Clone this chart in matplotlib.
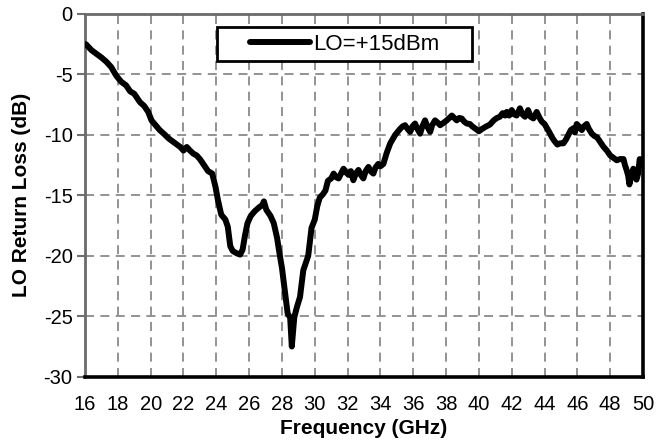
import matplotlib
import matplotlib.pyplot as plt
from matplotlib.lines import Line2D
from matplotlib.legend_handler import HandlerLine2D

matplotlib.use('Agg')

# LO return loss
freq_ghz = [16.05, 16.4, 16.7, 17.0, 17.3, 17.6, 17.9, 18.2, 18.5, 18.75,
            19.0, 19.35, 19.6, 19.85, 20.05, 20.3, 20.55, 20.8, 21.1, 21.4,
            21.8, 22.0, 22.2, 22.4, 22.6, 22.8, 23.0, 23.3, 23.5, 23.75,
            23.95, 24.1, 24.3, 24.55, 24.7, 24.85, 25.0, 25.25, 25.45, 25.6,
            25.75, 25.9, 26.1, 26.35, 26.6, 26.8, 26.9, 27.05, 27.3, 27.5,
            27.7, 27.85, 28.0, 28.2, 28.35, 28.5, 28.6, 28.75, 28.9, 29.1,
            29.3, 29.45, 29.6, 29.8, 30.0, 30.15, 30.3, 30.5, 30.65, 30.8,
            31.0, 31.15, 31.3, 31.45, 31.6, 31.75, 31.9, 32.05, 32.2, 32.35,
            32.5, 32.66, 32.8, 32.96, 33.1, 33.27, 33.4, 33.57, 33.7, 33.87,
            34.0, 34.18, 34.38, 34.6, 34.9, 35.2, 35.35, 35.5, 35.65, 35.81,
            35.95, 36.11, 36.25, 36.42, 36.55, 36.72, 36.85, 37.03, 37.15, 37.33,
            37.5, 37.64, 37.85, 38.04, 38.2, 38.35, 38.5, 38.65, 38.8, 38.96,
            39.1, 39.26, 39.45, 39.6, 39.8, 40.0, 40.2, 40.45, 40.67, 40.9,
            41.1, 41.28, 41.45, 41.6, 41.7, 41.85, 42.0, 42.15, 42.3, 42.5,
            42.65, 42.81, 43.0, 43.15, 43.32, 43.52, 43.7, 43.83, 44.0, 44.13,
            44.3, 44.45, 44.6, 44.78, 44.95, 45.15, 45.3, 45.45, 45.6, 45.76,
            45.85, 45.96, 46.1, 46.27, 46.4, 46.57, 46.7, 46.88, 47.05, 47.2,
            47.4, 47.6, 47.8, 48.0, 48.2, 48.4, 48.6, 48.81, 48.9, 49.0,
            49.1, 49.17, 49.3, 49.41, 49.5, 49.6, 49.7, 49.8, 49.9, 50.0]
return_loss_db = [-2.5, -3.0, -3.3, -3.6, -3.95, -4.4, -5.1, -5.6, -5.9, -6.4,
                  -6.6, -7.3, -7.6, -8.1, -8.8, -9.2, -9.6, -9.9, -10.3, -10.6,
                  -11.0, -11.3, -11.0, -11.3, -11.55, -11.7, -12.0, -12.6, -13.0, -13.2,
                  -14.3, -15.4, -16.6, -17.0, -17.6, -19.2, -19.6, -19.8, -19.9, -19.5,
                  -18.3, -17.3, -16.7, -16.3, -16.0, -15.8, -15.5, -16.2, -16.7, -17.3,
                  -18.5, -19.8, -21.0, -23.2, -24.8, -25.1, -27.5, -25.1, -24.3, -23.4,
                  -21.2, -20.6, -20.0, -17.7, -17.0, -15.9, -15.2, -14.9, -14.6, -13.8,
                  -13.6, -13.2, -13.5, -13.6, -13.2, -12.8, -13.1, -13.3, -13.0, -13.75,
                  -13.2, -12.9, -13.3, -13.6, -13.0, -12.65, -13.0, -13.2, -12.7, -12.4,
                  -12.6, -12.4, -11.5, -10.7, -10.0, -9.5, -9.3, -9.2, -9.5, -9.75,
                  -9.3, -9.06, -9.5, -9.9, -9.3, -8.8, -9.3, -9.75, -9.2, -8.8,
                  -9.0, -9.2, -9.0, -8.8, -8.6, -8.4, -8.6, -8.8, -8.6, -8.65,
                  -8.9, -9.06, -9.1, -9.3, -9.5, -9.7, -9.5, -9.3, -9.15, -8.8,
                  -8.6, -8.5, -8.2, -8.4, -8.1, -8.4, -7.95, -8.3, -8.4, -7.8,
                  -8.3, -8.5, -7.95, -8.5, -8.64, -8.1, -8.6, -8.9, -9.1, -9.4,
                  -9.8, -10.2, -10.5, -10.8, -10.7, -10.7, -10.4, -10.0, -9.6, -9.45,
                  -9.8, -9.1, -9.3, -9.6, -9.3, -9.1, -9.5, -9.9, -10.1, -10.2,
                  -10.6, -11.0, -11.3, -11.7, -11.9, -12.1, -12.0, -12.0, -12.5, -12.9,
                  -13.4, -14.1, -13.3, -12.8, -13.3, -13.7, -13.2, -12.0, -12.5, -12.0]

x_ticks = list(range(16, 51, 2))
y_ticks = list(range(-30, 1, 5))
series_label = 'LO=+15dBm'

plt.rcParams['font.family'] = ['Liberation Sans', 'DejaVu Sans']
plt.rcParams['axes.unicode_minus'] = False

fig = plt.figure(figsize=(6.56, 4.42), dpi=100)
ax = fig.add_axes([0.1296, 0.1477, 0.8506, 0.8207])

ax.plot(freq_ghz, return_loss_db, color='black', linewidth=4.3,
        solid_joinstyle='round', solid_capstyle='round', label=series_label, zorder=3)

ax.set_xlim(16, 50)
ax.set_ylim(-30, 0)
ax.set_xticks(x_ticks)
ax.set_yticks(y_ticks)
ax.tick_params(axis='x', length=0, pad=13, labelsize=14.5)
ax.tick_params(axis='y', length=6, width=1.5, color='#707070', pad=3, labelsize=14.5)

ax.grid(True, color='#8a8a8a', linestyle=(0, (5, 3.5)), linewidth=1.3)
ax.set_axisbelow(True)

# shadowed frame: grey left/top, black right/bottom
for side in ['left', 'top']:
    ax.spines[side].set_color('#6a6a6a')
    ax.spines[side].set_linewidth(2)
for side in ['right', 'bottom']:
    ax.spines[side].set_color('black')
    ax.spines[side].set_linewidth(2.6)

ax.set_xlabel('Frequency (GHz)', fontsize=15, fontweight='bold', labelpad=4)
ax.set_ylabel('LO Return Loss (dB)', fontsize=15, fontweight='bold', labelpad=9)

# wide legend box, handle pushed in from the left edge
leg = ax.legend(loc='upper left', bbox_to_anchor=(0.2366, 0.859, 0.457, 0.105),
                mode='expand', borderaxespad=0, fontsize=16,
                handlelength=3.9, handletextpad=0.13, borderpad=0.3,
                fancybox=False, framealpha=1,
                handler_map={Line2D: HandlerLine2D(xpad=1.18)})
leg.get_frame().set_edgecolor('black')
leg.get_frame().set_linewidth(2)

plt.savefig('out.png', dpi=100)
